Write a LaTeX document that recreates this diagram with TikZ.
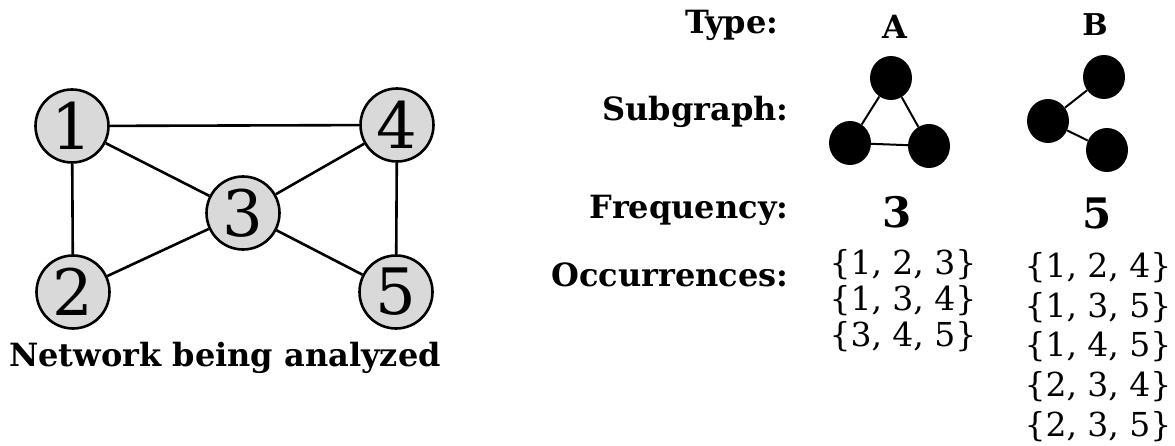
\documentclass[tikz,border=0pt]{standalone}
\usepackage{fontspec}
\setmainfont{DejaVu Serif}
\usetikzlibrary{shapes.geometric}

\begin{document}
\begin{tikzpicture}[x=1pt, y=-1pt,
  vertex/.style={circle, draw, line width=2.6pt, fill=black!15, minimum size=73pt, inner sep=0pt, font=\fontsize{64}{64}\selectfont},
  dot/.style={ellipse, fill=black, minimum width=42pt, minimum height=44pt, inner sep=0pt},
  lbl/.style={anchor=east, font=\fontsize{32}{32}\selectfont\bfseries},
  occ/.style={font=\fontsize{33}{33}\selectfont}]
\useasboundingbox (0,0) rectangle (1175,446);

% the network
\node[vertex] (n1) at (72,126) {1};
\node[vertex] (n2) at (73,292) {2};
\node[vertex] (n3) at (243,213) {3};
\node[vertex] (n4) at (397,125) {4};
\node[vertex] (n5) at (396,292) {5};
\begin{scope}[line width=2.6pt]
\draw (n1) -- (n4);
\draw (n1) -- (n3);
\draw (n1) -- (n2);
\draw (n2) -- (n3);
\draw (n3) -- (n4);
\draw (n3) -- (n5);
\draw (n4) -- (n5);
\end{scope}
\node[font=\fontsize{32}{32}\selectfont\bfseries] (cap) at (225,358) {Network being analyzed};

% row labels
\node[lbl] (type) at (782,25) {Type:};
\node[lbl] (sub) at (792,112) {Subgraph:};
\node[lbl] (freq) at (792,210) {Frequency:};
\node[lbl] (occ) at (792,275) {Occurrences:};

\node[font=\fontsize{32}{32}\selectfont\bfseries] (tA) at (895,27) {A};
\node[font=\fontsize{30}{30}\selectfont\bfseries] (tB) at (1095,25) {B};

% subgraph A: triangle
\node[dot] (a1) at (891,78) {};
\node[dot] (a2) at (850,143) {};
\node[dot] (a3) at (929,146) {};
\draw[line width=2pt] (a1) -- (a2) -- (a3) -- (a1);

% subgraph B: path
\node[dot] (b1) at (1104,77) {};
\node[dot] (b2) at (1048,121) {};
\node[dot] (b3) at (1107,150) {};
\draw[line width=2pt] (b1) -- (b2) -- (b3);

\node[font=\fontsize{42}{42}\selectfont\bfseries] (fA) at (897,212) {3};
\node[font=\fontsize{42}{42}\selectfont\bfseries] (fB) at (1097,213) {5};

% occurrences
\node[occ] (oA1) at (903,265) {\{1, 2, 3\}};
\node[occ] (oA2) at (903,301) {\{1, 3, 4\}};
\node[occ] (oA3) at (903,337) {\{3, 4, 5\}};
\node[occ] (oB1) at (1098,268) {\{1, 2, 4\}};
\node[occ] (oB2) at (1098,308) {\{1, 3, 5\}};
\node[occ] (oB3) at (1098,347) {\{1, 4, 5\}};
\node[occ] (oB4) at (1098,387) {\{2, 3, 4\}};
\node[occ] (oB5) at (1098,427) {\{2, 3, 5\}};
\end{tikzpicture}
\end{document}
